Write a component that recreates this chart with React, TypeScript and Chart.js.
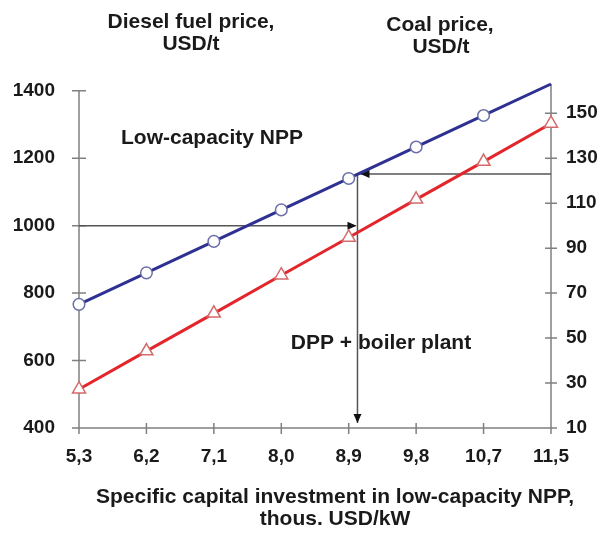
import React, { useEffect, useRef } from 'react';
import { Chart, registerables } from 'chart.js';

Chart.register(...registerables);

// ---- data ----
const categories = ['5,3', '6,2', '7,1', '8,0', '8,9', '9,8', '10,7', '11,5'];
// DPP + boiler plant: diesel fuel price, USD/t (left axis)
const dieselPrice = [515, 628, 740, 853, 965, 1078, 1190, 1303];
// Low-capacity NPP: coal price, USD/t (right axis)
const coalPrice = [65, 79, 93, 107, 121, 135, 149, 163];
const coalMarkers = [true, true, true, true, true, true, true, false];
const leftTicks = [400, 600, 800, 1000, 1200, 1400];
const rightTicks = [10, 30, 50, 70, 90, 110, 130, 150];
const dieselRef = 1000;
const coalRef = 123;
const crossIndex = 4.13;

const FONT = '"Liberation Sans", Arial, Helvetica, sans-serif';
const TEXT = '#1a1a1a';
const AXIS = '#808080';

function arrow(ctx: CanvasRenderingContext2D, x: number, y: number, dir: 'r' | 'l' | 'd') {
  const L = 9, W = 4;
  ctx.beginPath();
  if (dir === 'r') { ctx.moveTo(x, y); ctx.lineTo(x - L, y - W); ctx.lineTo(x - L, y + W); }
  if (dir === 'l') { ctx.moveTo(x, y); ctx.lineTo(x + L, y - W); ctx.lineTo(x + L, y + W); }
  if (dir === 'd') { ctx.moveTo(x, y); ctx.lineTo(x - W, y - L); ctx.lineTo(x + W, y - L); }
  ctx.closePath();
  ctx.fill();
}

const decor = {
  id: 'decor',
  beforeDatasetsDraw(chart: any) {
    const ctx: CanvasRenderingContext2D = chart.ctx;
    const xs = chart.scales.x, yl = chart.scales.y, yr = chart.scales.y1;
    const { left, right, top, bottom } = chart.chartArea;
    ctx.save();
    ctx.strokeStyle = AXIS;
    ctx.lineWidth = 1.5;
    ctx.beginPath();
    ctx.moveTo(left, yl.getPixelForValue(1400));
    ctx.lineTo(left, bottom);
    leftTicks.forEach(v => { const p = yl.getPixelForValue(v); ctx.moveTo(left - 7, p); ctx.lineTo(left + 7, p); });
    ctx.moveTo(right, top);
    ctx.lineTo(right, bottom);
    rightTicks.forEach(v => { const p = yr.getPixelForValue(v); ctx.moveTo(right - 6, p); ctx.lineTo(right + 6, p); });
    ctx.moveTo(left, bottom);
    ctx.lineTo(right, bottom);
    categories.forEach((_, i) => { const p = xs.getPixelForValue(i); ctx.moveTo(p, bottom - 5); ctx.lineTo(p, bottom + 6); });
    ctx.stroke();

    const xc = xs.getPixelForValue(crossIndex);
    const yd = yl.getPixelForValue(dieselRef);
    const yc = yr.getPixelForValue(coalRef);
    ctx.strokeStyle = '#555';
    ctx.fillStyle = '#111';
    ctx.lineWidth = 1.5;
    ctx.beginPath();
    ctx.moveTo(left, yd); ctx.lineTo(xc - 2, yd);
    ctx.moveTo(xc, yc); ctx.lineTo(xc, bottom - 5);
    ctx.moveTo(right, yc); ctx.lineTo(xc + 3, yc);
    ctx.stroke();
    arrow(ctx, xc - 1, yd, 'r');
    arrow(ctx, xc, bottom - 5, 'd');
    arrow(ctx, xc + 3, yc, 'l');
    ctx.restore();
  },
  afterDraw(chart: any) {
    const ctx: CanvasRenderingContext2D = chart.ctx;
    ctx.save();
    ctx.fillStyle = TEXT;
    ctx.font = `bold 21px ${FONT}`;
    ctx.textAlign = 'center';
    ctx.textBaseline = 'middle';
    ctx.fillText('Diesel fuel price,', 191, 22);
    ctx.fillText('USD/t', 191, 44);
    ctx.fillText('Coal price,', 440, 25);
    ctx.fillText('USD/t', 441, 47);
    ctx.fillText('Low-capacity NPP', 212, 138);
    ctx.fillText('DPP + boiler plant', 381, 343);
    ctx.fillText('Specific capital investment in low-capacity NPP,', 335, 497);
    ctx.fillText('thous. USD/kW', 335, 519);
    ctx.restore();
  },
};

export default function App() {
  const ref = useRef<HTMLCanvasElement>(null);
  useEffect(() => {
    if (!ref.current) return;
    const tickFont = { family: FONT, size: 19, weight: 'bold' as const };
    const chart = new Chart(ref.current, {
      type: 'line',
      data: {
        labels: categories,
        datasets: [
          {
            label: 'DPP + boiler plant (diesel)',
            data: dieselPrice,
            yAxisID: 'y',
            borderColor: '#e3262b',
            borderWidth: 3,
            pointStyle: 'triangle',
            pointRadius: 7.5,
            pointBackgroundColor: '#ffffff',
            pointBorderColor: '#d46a6a',
            pointBorderWidth: 1.5,
            tension: 0,
            clip: false as any,
          },
          {
            label: 'Low-capacity NPP (coal)',
            data: coalPrice,
            yAxisID: 'y1',
            borderColor: '#2e3192',
            borderWidth: 3,
            pointStyle: 'circle',
            pointRadius: coalMarkers.map(m => (m ? 5.8 : 0)),
            pointBackgroundColor: '#ffffff',
            pointBorderColor: '#6b6fa8',
            pointBorderWidth: 1.5,
            tension: 0,
            clip: false as any,
          },
        ],
      },
      options: {
        animation: false,
        responsive: false,
        layout: { padding: { top: 84, left: 0, right: 0, bottom: 0 } },
        plugins: { legend: { display: false }, tooltip: { enabled: false }, title: { display: false } },
        scales: {
          x: {
            type: 'category',
            offset: false,
            grid: { display: false, drawTicks: false },
            border: { display: false },
            ticks: { font: tickFont, color: TEXT, padding: 17, maxRotation: 0, autoSkip: false },
            afterFit: (s: any) => { s.height = 108; },
          },
          y: {
            position: 'left',
            min: 400,
            max: 1420,
            grid: { display: false, drawTicks: false },
            border: { display: false },
            ticks: { font: tickFont, color: TEXT, padding: 24, callback: (v: any) => String(v) },
            afterBuildTicks: (s: any) => { s.ticks = leftTicks.map(v => ({ value: v })); },
            afterFit: (s: any) => { s.width = 79; },
          },
          y1: {
            position: 'right',
            min: 10,
            max: 163,
            grid: { display: false, drawTicks: false },
            border: { display: false },
            ticks: { font: tickFont, color: TEXT, padding: 15, callback: (v: any) => String(v) },
            afterBuildTicks: (s: any) => { s.ticks = rightTicks.map(v => ({ value: v })); },
            afterFit: (s: any) => { s.width = 51; },
          },
        },
      },
      plugins: [decor],
    });
    return () => chart.destroy();
  }, []);
  return (
    <div style={{ position: 'absolute', left: 0, top: 0, width: 602, height: 536, background: '#fff' }}>
      <canvas ref={ref} width={602} height={536} />
    </div>
  );
}
